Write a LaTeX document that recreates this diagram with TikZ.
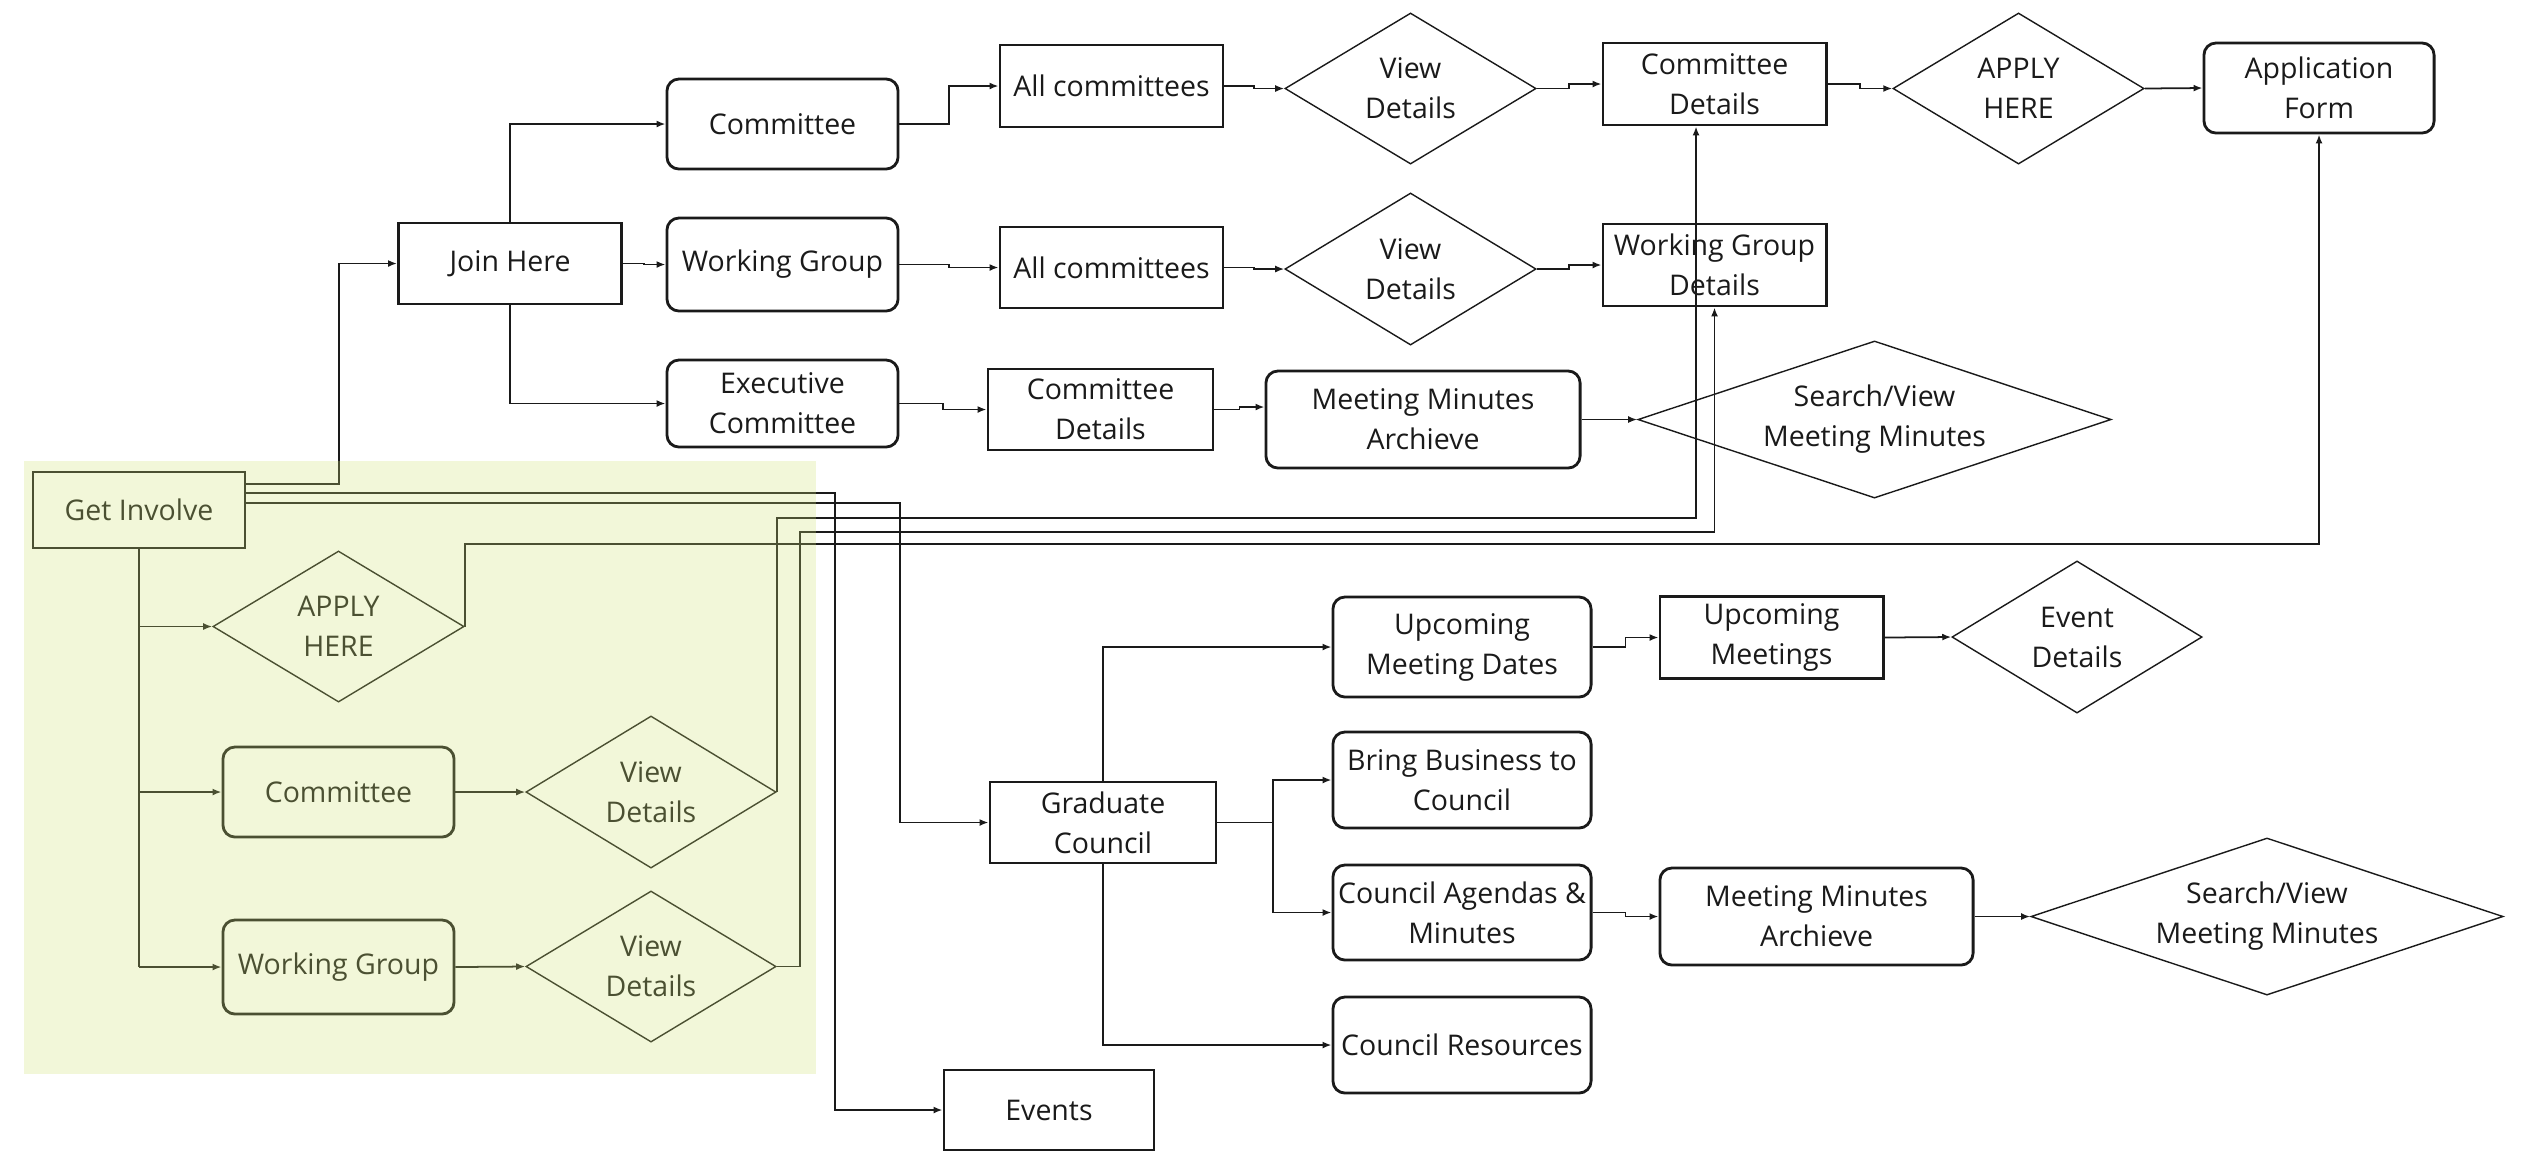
\documentclass[tikz,border=0pt]{standalone}
\usepackage{fontspec}
\setmainfont{Open Sans}
\usetikzlibrary{shapes.geometric,arrows.meta,calc}
\definecolor{greenov}{rgb}{0.815,0.89,0.45}
\definecolor{ink}{HTML}{1A1A1A}
\begin{document}
\begin{tikzpicture}[x=0.01cm,y=-0.01cm,
  every node/.style={font=\fontsize{8.1pt}{11.4pt}\selectfont, align=center, text=ink},
  rectbox/.style={draw=ink, line width=0.8pt, inner sep=1pt},
  roundbox/.style={draw=ink, line width=0.8pt, rounded corners=1.2mm, inner sep=1pt},
  decide/.style={draw=ink, line width=0.4pt, diamond, inner sep=0pt},
  conn/.style={draw=ink, line width=0.5pt, -{Latex[length=0.9mm,width=0.7mm]}},
  jog/.style={to path={-| ($(\tikztostart)!0.5!(\tikztotarget)$) |- (\tikztotarget) \tikztonodes}}
]
\useasboundingbox (0,0) rectangle (2522,1162);

% ---------- nodes: left (Get Involve) ----------
\node[rectbox, minimum width=2.12cm, minimum height=0.76cm] (gi) at (139,510) {Get Involve};
\node[decide, aspect=1.66, minimum width=2.51cm, minimum height=1.51cm] (lah) at (338.5,626.5) {APPLY\\HERE};
\node[roundbox, minimum width=2.31cm, minimum height=0.90cm] (lct) at (338.5,792) {Committee};
\node[roundbox, minimum width=2.31cm, minimum height=0.94cm] (lwg) at (338.5,967) {Working Group};
\node[decide, aspect=1.66, minimum width=2.50cm, minimum height=1.52cm] (lvd1) at (651,792) {View\\Details};
\node[decide, aspect=1.66, minimum width=2.50cm, minimum height=1.51cm] (lvd2) at (651,966.5) {View\\Details};

% ---------- nodes: top ----------
\node[rectbox, minimum width=2.23cm, minimum height=0.81cm] (jh) at (510,263.5) {Join Here};
\node[roundbox, minimum width=2.31cm, minimum height=0.90cm] (ct) at (782.5,124) {Committee};
\node[roundbox, minimum width=2.31cm, minimum height=0.93cm] (wg) at (782.5,264.5) {Working Group};
\node[roundbox, minimum width=2.31cm, minimum height=0.87cm] (ec) at (782.5,403.5) {Executive\\Committee};
\node[rectbox, minimum width=2.23cm, minimum height=0.82cm] (ac1) at (1111.5,86) {All committees};
\node[rectbox, minimum width=2.23cm, minimum height=0.81cm] (ac2) at (1111.5,267.5) {All committees};
\node[rectbox, minimum width=2.25cm, minimum height=0.81cm] (cdm) at (1100.5,409.5) {Committee\\Details};
\node[decide, aspect=1.66, minimum width=2.51cm, minimum height=1.51cm] (vd1) at (1410.5,88.5) {View\\Details};
\node[decide, aspect=1.66, minimum width=2.51cm, minimum height=1.52cm] (vd2) at (1410.5,269) {View\\Details};
\node[roundbox, minimum width=3.14cm, minimum height=0.97cm] (ma1) at (1423,419.5) {Meeting Minutes\\Archieve};
\node[rectbox, minimum width=2.23cm, minimum height=0.82cm] (cd) at (1714.5,84) {Committee\\Details};
\node[rectbox, minimum width=2.23cm, minimum height=0.82cm] (wgd) at (1714.5,265) {Working Group\\Details};
\node[decide, aspect=3, minimum width=4.73cm, minimum height=1.57cm] (sv1) at (1874.5,419.5) {Search/View\\Meeting Minutes};
\node[decide, aspect=1.66, minimum width=2.51cm, minimum height=1.51cm] (ah) at (2018.5,88.5) {APPLY\\HERE};
\node[roundbox, minimum width=2.30cm, minimum height=0.90cm] (af) at (2319,88) {Application\\Form};

% ---------- nodes: council ----------
\node[rectbox, minimum width=2.26cm, minimum height=0.81cm] (gc) at (1103,822.5) {Graduate\\Council};
\node[rectbox, minimum width=2.10cm, minimum height=0.80cm] (ev) at (1049,1110) {Events};
\node[roundbox, minimum width=2.58cm, minimum height=1.00cm] (umd) at (1462,647) {Upcoming\\Meeting Dates};
\node[rectbox, minimum width=2.23cm, minimum height=0.82cm] (um) at (1771.5,637.5) {Upcoming\\Meetings};
\node[decide, aspect=1.66, minimum width=2.50cm, minimum height=1.52cm] (ed) at (2077,637) {Event\\Details};
\node[roundbox, minimum width=2.58cm, minimum height=0.96cm] (bb) at (1462,780) {Bring Business to\\Council};
\node[roundbox, minimum width=2.58cm, minimum height=0.95cm] (ca) at (1462,912.5) {Council Agendas \&\\Minutes};
\node[roundbox, minimum width=3.13cm, minimum height=0.97cm] (ma2) at (1816.5,916.5) {Meeting Minutes\\Archieve};
\node[decide, aspect=3, minimum width=4.72cm, minimum height=1.57cm] (sv2) at (2267,916.5) {Search/View\\Meeting Minutes};
\node[roundbox, minimum width=2.58cm, minimum height=0.96cm] (cr) at (1462,1045) {Council Resources};

% ---------- connectors from Get Involve ----------
\draw[conn] (gi.east |- 0,484) -- (339,484) |- (jh.west);
\draw[conn] (gi.east |- 0,493) -- (835,493) |- (ev.west);
\draw[conn] (gi.east |- 0,503) -- (900,503) |- (gc.west);
\draw[line width=0.5pt, draw=ink] (gi.south) -- (gi.south |- lwg.west);
\draw[conn] (gi.south |- lah.west) -- (lah.west);
\draw[conn] (gi.south |- lct.west) -- (lct.west);
\draw[conn] (gi.south |- lwg.west) -- (lwg.west);
\draw[conn] (lct.east) -- (lvd1.west);
\draw[conn] (lwg.east) -- (lvd2.west);
\draw[conn] (lah.east) |- (af.south |- 0,544) -- (af.south);
\draw[conn] (lvd1.east) |- (1696,518) -- (cd.south -| 1696,0);
\draw[conn] (lvd2.east) -| (800,532) -| (wgd.south);

% ---------- connectors: top ----------
\draw[conn] (jh.north) |- (ct.west);
\draw[conn] (jh.south) |- (ec.west);
\draw[conn] (jh.east) to[jog] (wg.west);
\draw[conn] (ct.east) to[jog] (ac1.west);
\draw[conn] (wg.east) to[jog] (ac2.west);
\draw[conn] (ac1.east) to[jog] (vd1.west);
\draw[conn] (ac2.east) to[jog] (vd2.west);
\draw[conn] (vd1.east) to[jog] (cd.west);
\draw[conn] (vd2.east) to[jog] (wgd.west);
\draw[conn] (cd.east) to[jog] (ah.west);
\draw[conn] (ah.east) -- (af.west);
\draw[conn] (ec.east) to[jog] (cdm.west);
\draw[conn] (cdm.east) to[jog] (ma1.west |- 0,407);
\draw[conn] (ma1.east) -- (sv1.west);

% ---------- connectors: council ----------
\draw[conn] (gc.north) |- (umd.west);
\draw[line width=0.5pt, draw=ink] (gc.east) -- (1273,822.5);
\draw[conn] (1273,822.5) |- (bb.west);
\draw[conn] (1273,822.5) |- (ca.west);
\draw[conn] (gc.south) |- (cr.west);
\draw[conn] (umd.east) to[jog] (um.west);
\draw[conn] (um.east) -- (ed.west);
\draw[conn] (ca.east) to[jog] (ma2.west);
\draw[conn] (ma2.east) -- (sv2.west);

% ---------- translucent green overlay ----------
\fill[greenov, fill opacity=0.27] (24,461) rectangle (816,1074);
\end{tikzpicture}
\end{document}
